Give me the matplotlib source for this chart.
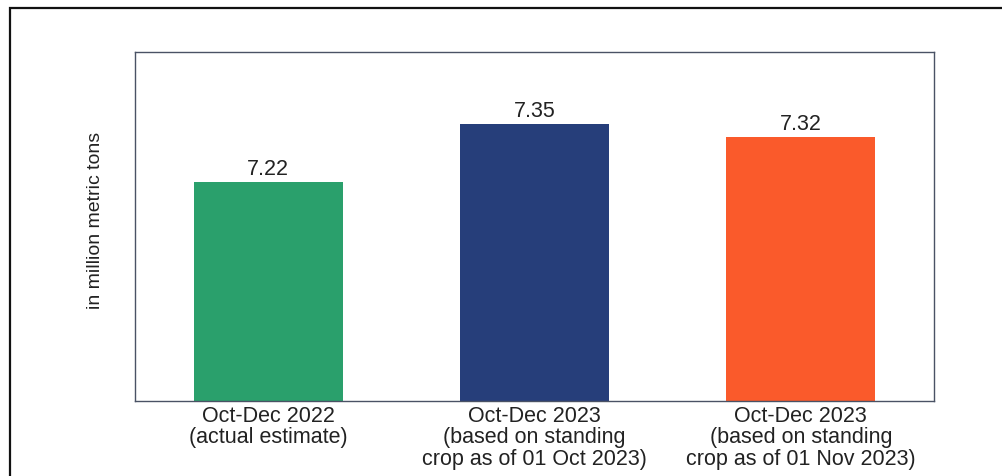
import matplotlib.pyplot as plt
from matplotlib.patches import Rectangle

plt.rcParams['font.family'] = ['Liberation Sans', 'DejaVu Sans']

# Data
categories = [
    'Oct-Dec 2022\n(actual estimate)',
    'Oct-Dec 2023\n(based on standing\ncrop as of 01 Oct 2023)',
    'Oct-Dec 2023\n(based on standing\ncrop as of 01 Nov 2023)',
]
values = [7.22, 7.35, 7.32]
colors = ['#2aa06c', '#263e7a', '#fa5a2b']

fig = plt.figure(figsize=(10.02, 4.77), dpi=100)
ax = fig.add_axes([135 / 1002, 75 / 477, 799 / 1002, 349 / 477])

x = range(len(values))
bars = ax.bar(x, values, width=0.56, color=colors)
ax.set_xlim(-0.5, 2.5)
ax.set_ylim(6.73, 7.51)

for b, v in zip(bars, values):
    ax.text(b.get_x() + b.get_width() / 2, v + 0.006, f'{v:.2f}',
            ha='center', va='bottom', fontsize=15.5, color='#222222')

ax.set_xticks(list(x))
ax.set_xticklabels(categories, fontsize=15.5, color='#222222', linespacing=1.02)
ax.tick_params(axis='x', length=0, pad=3)
ax.set_yticks([])
ax.set_ylabel('in million metric tons', fontsize=14, color='#222222')
ax.yaxis.set_label_coords(-0.039, 0.52)

for s in ax.spines.values():
    s.set_color('#4a5265')
    s.set_linewidth(1.0)

# outer frame
fig.patches.append(Rectangle((10 / 1002, -0.1), 1.2, (477 - 9) / 477 + 0.1,
                             transform=fig.transFigure, fill=False,
                             edgecolor='#111111', linewidth=1.6))

fig.savefig('out.png', dpi=100)
